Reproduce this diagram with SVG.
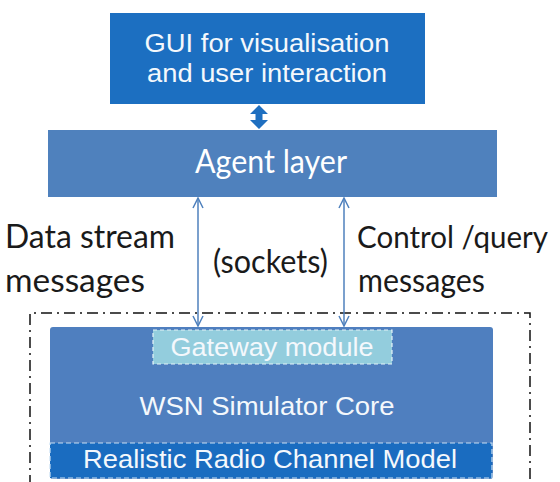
<svg xmlns="http://www.w3.org/2000/svg" width="560" height="482" viewBox="0 0 560 482">
  <style>
    .sans { font-family: "Liberation Sans", Arial, sans-serif; fill: #f4f8fc; }
    .hum { font-family: Lato, "Open Sans", sans-serif; }
    .lbl { font-family: Lato, "Open Sans", sans-serif; fill: #1a1a1a; font-size: 33px; }
    .link { stroke: #4f81bd; stroke-width: 1.5; fill: none; }
  </style>
  <defs>
    <marker id="vhead" viewBox="0 0 12 12" refX="11" refY="6" markerWidth="12" markerHeight="12" markerUnits="userSpaceOnUse" orient="auto-start-reverse">
      <path d="M1,1 L11,6 L1,11" fill="none" stroke="#4f81bd" stroke-width="1.5"/>
    </marker>
  </defs>
  <rect width="560" height="482" fill="#ffffff"/>

  <!-- simulator boundary (dash-dot, runs off the bottom edge) -->
  <path d="M30,486 L30,313 L530,313 L530,486" fill="none" stroke="#111" stroke-width="1.5" stroke-dasharray="11,5,2,5"/>

  <g id="gui">
    <rect x="110" y="13" width="315" height="91" fill="#1c6fc1"/>
    <text class="sans" x="267" y="52" font-size="25" text-anchor="middle" textLength="245" lengthAdjust="spacingAndGlyphs">GUI for visualisation</text>
    <text class="sans" x="267" y="82" font-size="25" text-anchor="middle" textLength="240" lengthAdjust="spacingAndGlyphs">and user interaction</text>
  </g>

  <g id="agent">
    <rect x="48" y="130" width="449" height="67" fill="#4f81bd"/>
    <text class="hum" x="271" y="173" font-size="33" fill="#ffffff" text-anchor="middle" textLength="152" lengthAdjust="spacingAndGlyphs">Agent layer</text>
  </g>

  <g id="core">
    <rect x="50" y="327" width="443" height="152" rx="3" fill="#4f7fbf"/>
    <text class="sans" x="267" y="415" font-size="25" text-anchor="middle" textLength="255" lengthAdjust="spacingAndGlyphs">WSN Simulator Core</text>
  </g>

  <g id="gateway">
    <rect x="153" y="330" width="239" height="34" fill="#93cddd" stroke="#e6f3f8" stroke-width="1.2" stroke-dasharray="4,3"/>
    <text class="sans" x="272" y="356" font-size="25" text-anchor="middle" textLength="203" lengthAdjust="spacingAndGlyphs" fill="#eef8fb">Gateway module</text>
  </g>

  <g id="radio">
    <rect x="50" y="443" width="442" height="35" fill="#1a6cc0" stroke="#c9e0f3" stroke-width="1.2" stroke-dasharray="5,3"/>
    <text class="sans" x="270" y="468" font-size="25" text-anchor="middle" textLength="374" lengthAdjust="spacingAndGlyphs">Realistic Radio Channel Model</text>
  </g>

  <g id="labels">
    <text class="lbl" x="5" y="248" textLength="170" lengthAdjust="spacingAndGlyphs">Data stream</text>
    <text class="lbl" x="5" y="292" textLength="140" lengthAdjust="spacingAndGlyphs">messages</text>
    <text class="lbl" x="213" y="273" textLength="115" lengthAdjust="spacingAndGlyphs">(sockets)</text>
    <text class="lbl" x="357" y="248" style="font-size:30px" textLength="191" lengthAdjust="spacingAndGlyphs">Control /query</text>
    <text class="lbl" x="358" y="292" textLength="127" lengthAdjust="spacingAndGlyphs">messages</text>
  </g>

  <g id="connectors">
    <!-- GUI <-> agent: thick block double arrow -->
    <path d="M259,105 L268,114 L262.5,114 L262.5,120 L268,120 L259,129 L250,120 L255.5,120 L255.5,114 L250,114 Z" fill="#1f6fc0"/>
    <!-- socket links between agent layer and simulator core -->
    <line class="link" x1="198" y1="198" x2="198" y2="326" marker-start="url(#vhead)" marker-end="url(#vhead)"/>
    <line class="link" x1="344" y1="198" x2="344" y2="326" marker-start="url(#vhead)" marker-end="url(#vhead)"/>
  </g>
</svg>
